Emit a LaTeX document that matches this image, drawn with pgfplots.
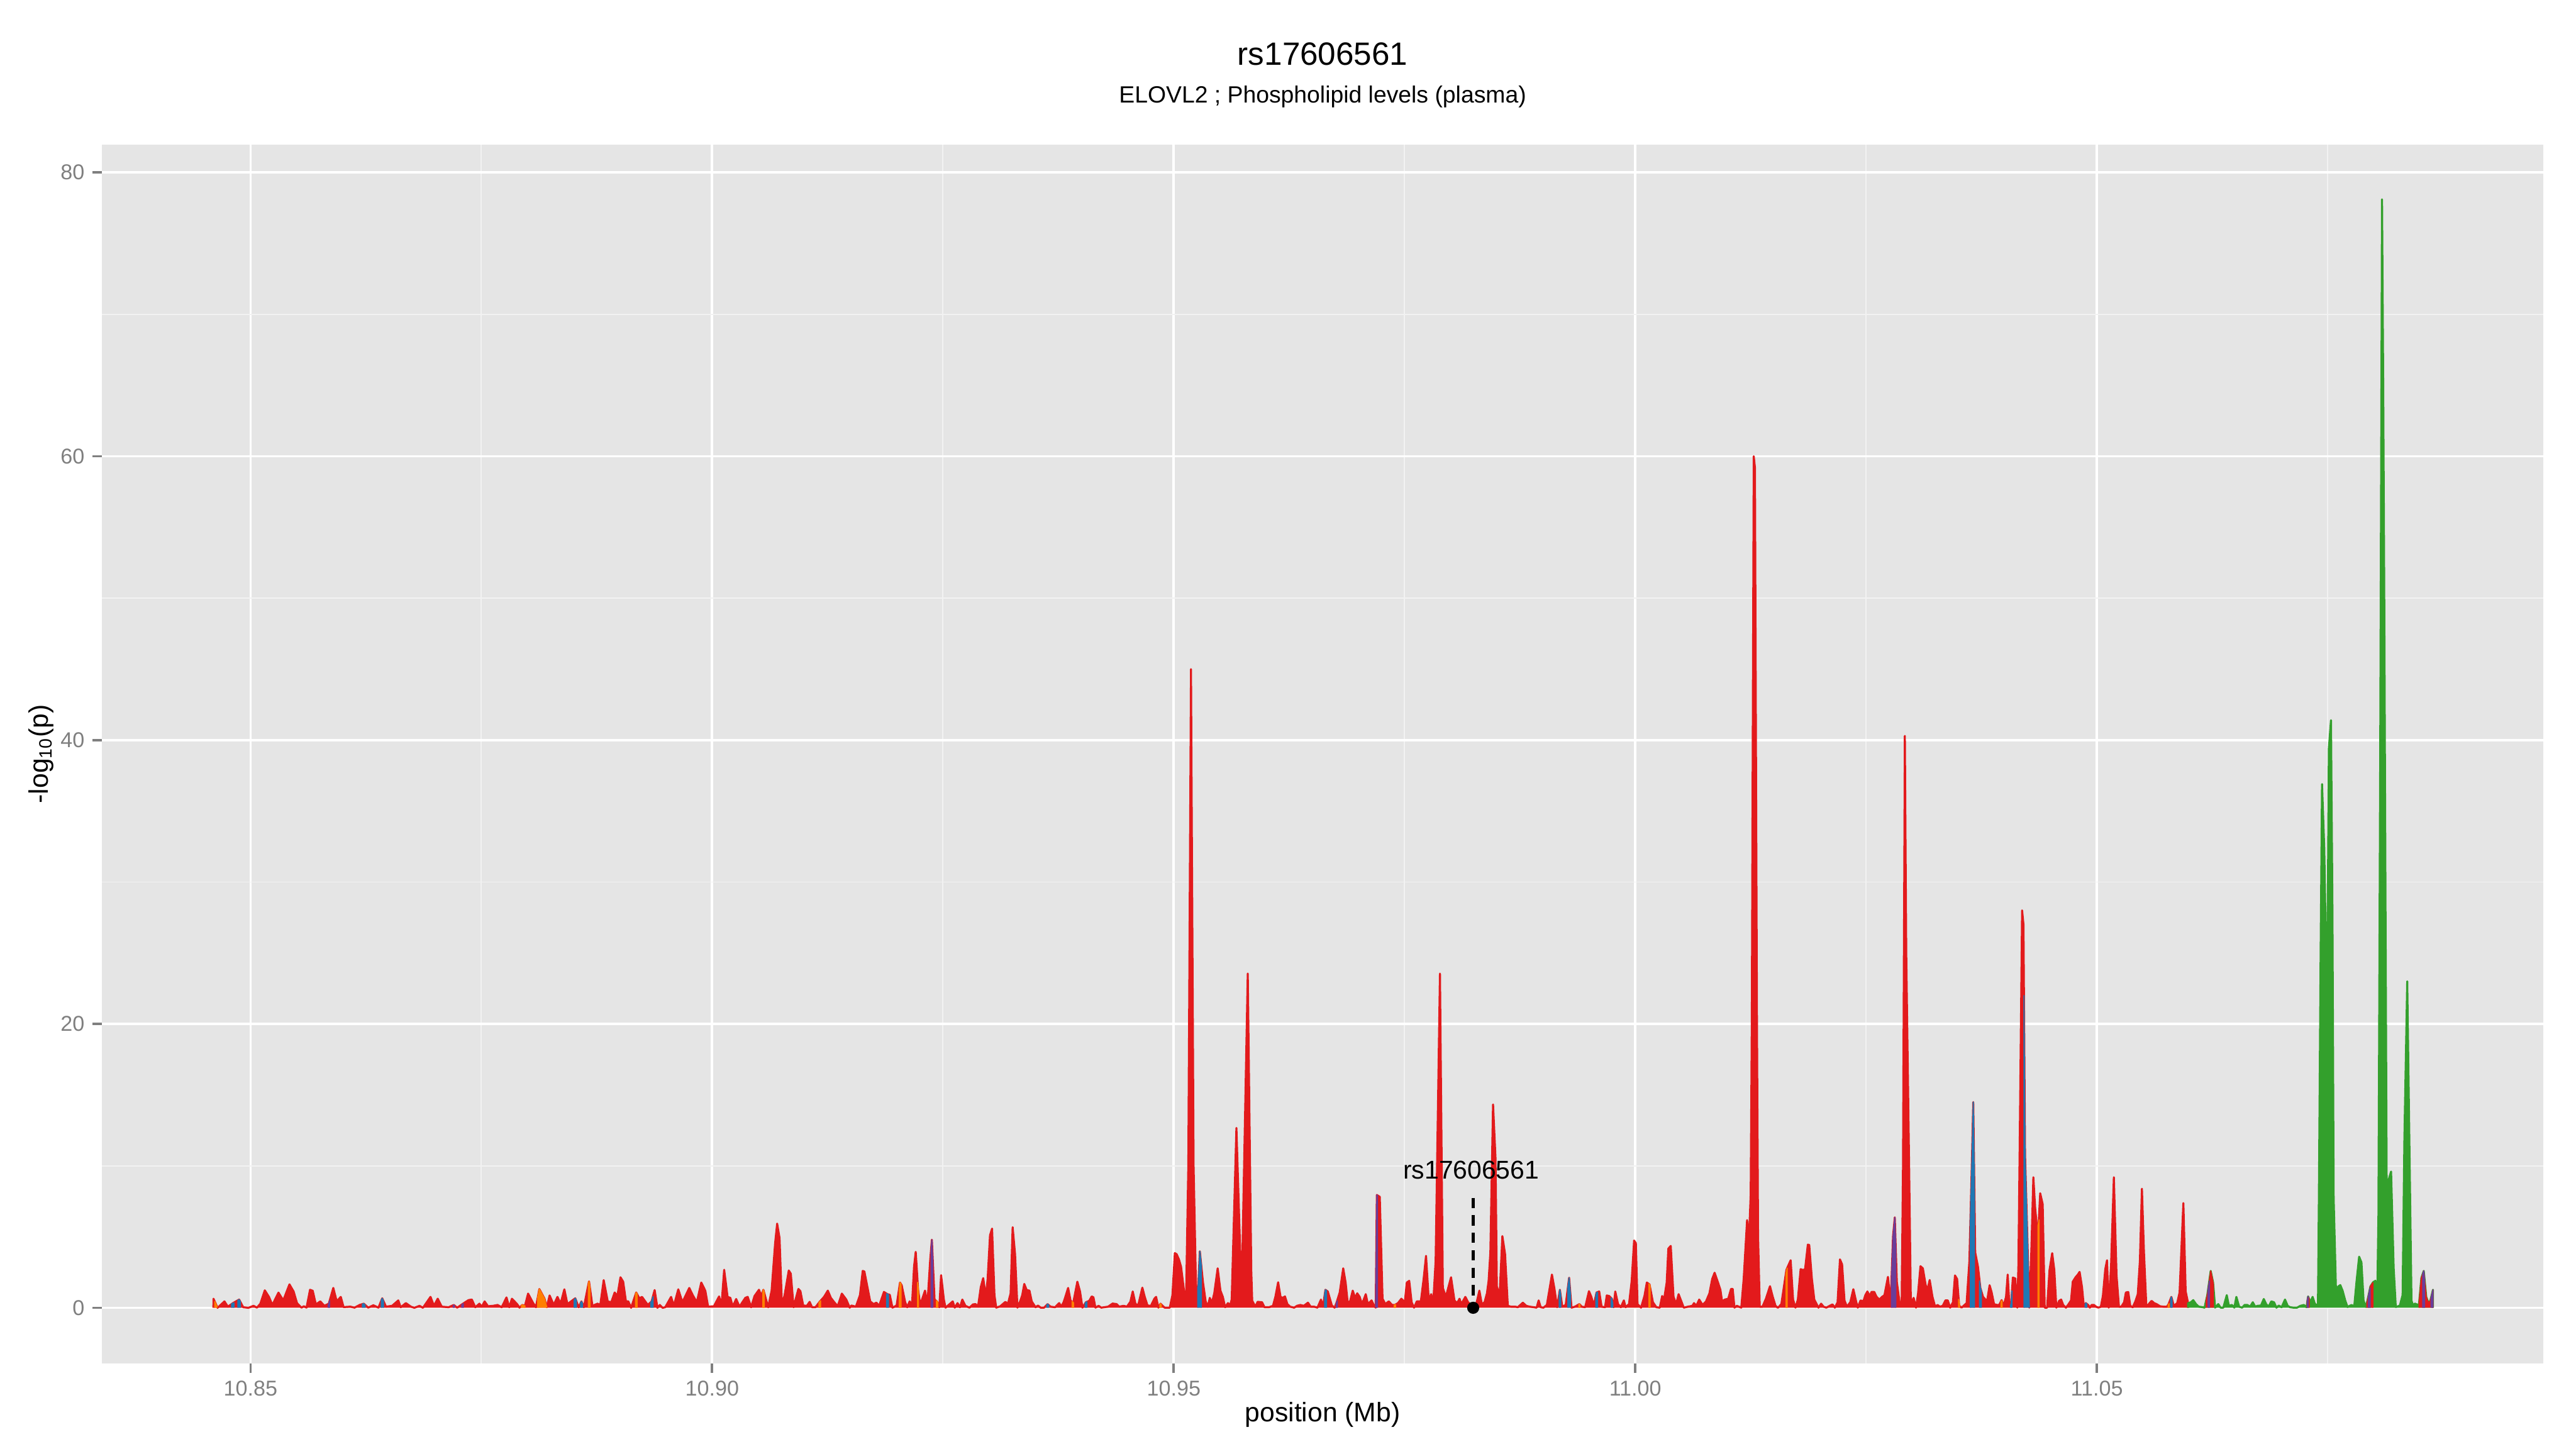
\documentclass[border=0pt]{standalone}
\usepackage{fontspec}
\setmainfont{Liberation Sans}
\usepackage{pgfplots}
\pgfplotsset{compat=1.18}
\definecolor{cRed}{HTML}{E31A1C}
\definecolor{cBlue}{HTML}{1F78B4}
\definecolor{cGreen}{HTML}{33A02C}
\definecolor{cOrange}{HTML}{FF7F00}
\definecolor{cPurple}{HTML}{6A3D9A}
\definecolor{panel}{HTML}{E5E5E5}
\definecolor{minorgrid}{HTML}{F2F2F2}
\definecolor{ticklab}{HTML}{7F7F7F}
\begin{document}
\begin{tikzpicture}
\path[use as bounding box] (-45.6pt,-38.2pt) rectangle (1106.4pt,609.8pt);
\begin{axis}[
  at={(0pt,0pt)}, anchor=south west,
  width=1091.8pt, height=545.2pt, scale only axis,
  xmin=10.8339, xmax=11.09837, ymin=-3.93, ymax=81.97,
  axis background/.style={fill=panel},
  axis line style={draw=none},
  xtick={10.85,10.9,10.95,11,11.05},
  xticklabels={10.85,10.90,10.95,11.00,11.05},
  ytick={0,20,40,60,80},
  yticklabels={0,20,40,60,80},
  minor xtick={10.875,10.925,10.975,11.025,11.075},
  minor ytick={10,30,50,70},
  grid=both,
  major grid style={white, line width=1.1pt},
  minor grid style={minorgrid, line width=0.55pt},
  tick align=outside, xtick pos=left, ytick pos=left,
  major tick length=4.25pt, minor tick length=0pt,
  major tick style={draw=ticklab, line width=1.1pt},
  tick label style={font=\fontsize{9.6}{11}\selectfont, text=ticklab},
  unbounded coords=jump,
  area/.style={line width=0.9pt, line join=round},
  sliver/.style={line width=0.5pt, line join=round},
]
% main red profile
\addplot[area, draw=cRed, fill=cRed] coordinates {
(10.84597,0)
(10.84598,0.64)(10.84642,0.0)(10.84717,0.45)(10.84754,0.08)(10.84809,0.33)(10.84876,0.58)(10.84920,0.04)(10.84976,0.0)(10.85032,0.14)(10.85069,0.01)(10.85106,0.29)(10.85154,1.23)(10.85199,0.77)(10.85236,0.2)(10.85302,1.07)(10.85354,0.52)(10.85421,1.65)(10.85466,1.15)(10.85503,0.33)(10.85551,0.01)(10.85577,0.11)(10.85606,0.01)(10.85644,1.27)(10.85673,1.2)(10.85707,0.24)(10.85755,0.45)(10.85799,0.14)(10.85847,0.29)(10.85896,1.4)(10.85933,0.45)(10.85977,0.77)(10.86007,0.05)(10.86081,0.08)(10.86126,0.01)(10.86181,0.2)(10.86226,0.29)(10.86274,0.01)(10.86330,0.18)(10.86385,0.01)(10.86426,0.67)(10.86467,0.08)(10.86533,0.14)(10.86600,0.52)(10.86626,0.04)(10.86682,0.33)(10.86737,0.08)(10.86774,0.0)(10.86830,0.14)(10.86867,0.0)(10.86949,0.77)(10.86986,0.14)(10.87027,0.64)(10.87071,0.08)(10.87145,0.04)(10.87201,0.2)(10.87238,0.01)(10.87294,0.26)(10.87360,0.54)(10.87397,0.58)(10.87434,0.04)(10.87479,0.29)(10.87505,0.08)(10.87535,0.45)(10.87572,0.11)(10.87627,0.14)(10.87676,0.2)(10.87720,0.04)(10.87772,0.73)(10.87802,0.04)(10.87831,0.64)(10.87887,0.26)(10.87913,0.01)(10.87942,0.2)(10.87972,0.14)(10.88006,1.0)(10.88061,0.33)(10.88091,0.04)(10.88128,1.32)(10.88184,0.64)(10.88209,0.04)(10.88239,0.87)(10.88284,0.2)(10.88324,0.77)(10.88358,0.29)(10.88399,1.3)(10.88432,0.26)(10.88517,0.67)(10.88554,0.04)(10.88584,0.45)(10.88610,0.04)(10.88666,1.86)(10.88703,0.14)(10.88758,0.29)(10.88788,0.2)(10.88825,1.95)(10.88869,0.45)(10.88907,0.39)(10.88944,1.08)(10.88973,0.83)(10.89007,2.15)(10.89036,1.84)(10.89066,0.45)(10.89092,0.45)(10.89122,0.0)(10.89177,1.08)(10.89211,0.67)(10.89240,0.77)(10.89303,0.2)(10.89344,0.45)(10.89377,1.25)(10.89407,0.0)(10.89433,0.2)(10.89463,0.0)(10.89492,0.04)(10.89555,0.77)(10.89585,0.14)(10.89633,1.3)(10.89678,0.39)(10.89752,1.4)(10.89789,0.9)(10.89834,0.39)(10.89882,1.78)(10.89926,1.2)(10.89956,0.08)(10.90019,0.11)(10.90075,0.8)(10.90101,0.14)(10.90130,2.68)(10.90167,0.77)(10.90197,0.7)(10.90223,0.08)(10.90260,0.62)
(10.90296,0.08)(10.90359,0.7)(10.90385,0.77)(10.90422,0.04)(10.90459,0.83)(10.90507,1.27)(10.90533,0.83)(10.90555,1.27)(10.90607,0.04)(10.90644,1.21)(10.90682,4.55)(10.90704,5.93)(10.90730,4.92)(10.90756,0.16)(10.90785,0.9)(10.90830,2.63)(10.90852,2.4)(10.90882,0.04)(10.90934,1.33)(10.90956,1.17)(10.90986,0.16)(10.91026,0.14)(10.91056,0.42)(10.91082,0.04)(10.91119,0.04)(10.91164,0.42)(10.91212,0.77)(10.91253,1.21)(10.91286,0.7)(10.91323,0.39)(10.91360,0.11)(10.91405,1.0)(10.91453,0.58)(10.91490,0.01)(10.91508,0.16)(10.91557,0.08)(10.91601,0.89)(10.91631,2.6)(10.91649,2.56)(10.91712,0.45)(10.91749,0.26)(10.91779,0.36)(10.91809,0.14)(10.91861,1.12)(10.91898,0.96)(10.91924,0.92)(10.91953,0.01)(10.91998,0.16)(10.92035,1.78)(10.92053,1.59)(10.92091,0.39)(10.92113,0.04)(10.92139,0.45)(10.92165,0.2)(10.92187,2.9)(10.92205,3.94)(10.92231,1.27)(10.92254,0.2)(10.92306,1.21)(10.92332,0.26)(10.92361,3.29)(10.92380,4.8)(10.92409,0.58)(10.92435,0.45)(10.92461,0.04)(10.92480,2.3)(10.92510,0.58)(10.92528,0.01)(10.92606,0.45)(10.92628,0.01)(10.92658,0.33)(10.92684,0.04)(10.92710,0.58)(10.92743,0.14)(10.92788,0.01)(10.92825,0.24)(10.92854,0.26)(10.92880,0.08)(10.92910,1.46)(10.92936,2.09)(10.92966,0.77)(10.92984,2.03)(10.93010,5.11)(10.93032,5.58)(10.93058,0.89)(10.93077,0.01)(10.93121,0.11)(10.93177,0.42)(10.93203,0.26)(10.93233,1.02)(10.93255,5.68)(10.93281,3.79)(10.93307,0.01)(10.93336,0.45)(10.93359,0.89)(10.93381,1.68)(10.93407,1.25)(10.93437,1.21)(10.93462,0.45)(10.93503,0.04)(10.93529,0.16)(10.93559,0.01)(10.93596,0.01)(10.93633,0.26)(10.93666,0.08)(10.93715,0.04)(10.93759,0.33)(10.93781,0.08)(10.93807,0.39)(10.93826,0.77)(10.93856,1.4)(10.93882,0.52)(10.93911,0.33)(10.93956,1.84)(10.93985,1.15)(10.94011,0.01)(10.94048,0.39)(10.94085,0.49)(10.94111,0.8)(10.94130,0.74)(10.94152,0.01)(10.94186,0.14)(10.94215,0.01)(10.94289,0.08)(10.94338,0.3)(10.94382,0.26)(10.94408,0.08)(10.94456,0.14)(10.94493,0.08)(10.94530,0.42)(10.94556,1.15)(10.94586,0.26)(10.94616,0.2)(10.94660,1.42)(10.94686,0.77)(10.94716,0.16)(10.94753,0.14)(10.94790,0.64)(10.94809,0.77)(10.94834,0.01)(10.94857,0.29)(10.94901,0.01)(10.94957,0.01)(10.94986,0.89)(10.95012,3.85)(10.95031,3.78)(10.95057,3.4)(10.95079,2.9)(10.95113,1.12)(10.95135,1.15)(10.95158,10)(10.95187,45.0)(10.95215,10)(10.95242,1.15)(10.95265,1.52)(10.95283,3.98)(10.95317,1.78)(10.95346,0.45)(10.95368,0.08)(10.95391,0.7)(10.95413,0.33)(10.95439,1.02)(10.95476,2.78)(10.95506,1.21)(10.95532,0.77)(10.95557,0.04)(10.95587,0.33)(10.95613,0.2)(10.95628,0.6)(10.95679,12.67)(10.95735,0.76)(10.95802,23.55)(10.95840,2.6)(10.95850,0.5)(10.95884,0.08)
(10.95909,0.42)(10.95957,0.39)(10.95983,0.04)(10.96031,0.04)(10.96075,0.14)(10.96101,0.77)(10.96131,1.8)(10.96157,0.77)(10.96179,0.7)(10.96205,0.8)(10.96231,0.26)(10.96261,0.08)(10.96305,0.01)(10.96335,0.14)(10.96372,0.2)(10.96409,0.14)(10.96454,0.36)(10.96483,0.08)(10.96520,0.08)(10.96557,0.01)(10.96595,0.58)(10.96617,0.08)(10.96643,1.27)(10.96669,1.15)(10.96713,0.16)(10.96743,0.01)(10.96765,0.39)(10.96798,1.08)(10.96836,2.78)(10.96862,1.78)(10.96884,0.39)(10.96910,0.45)(10.96939,1.21)(10.96965,0.7)(10.96988,1.02)(10.97014,0.77)(10.97040,0.26)(10.97080,0.96)(10.97103,0.26)(10.97143,0.52)(10.97169,0.16)(10.97188,0.01)(10.97200,7.95)(10.97232,7.82)(10.97262,0.64)(10.97292,0.26)(10.97329,0.45)(10.97366,0.2)(10.97395,0.2)(10.97429,0.33)(10.97466,0.64)(10.97503,0.39)(10.97525,1.78)(10.97551,1.9)(10.97577,0.39)(10.97603,0.01)(10.97633,0.45)(10.97677,0.45)(10.97707,2.03)(10.97733,3.66)(10.97763,0.52)(10.97789,0.96)(10.97811,0.33)(10.97837,3.3)(10.97884,23.55)(10.97915,1.4)(10.97948,0.77)(10.98004,2.15)(10.98041,0.52)(10.98070,0.33)(10.98096,0.64)(10.98115,0.26)(10.98159,0.77)(10.98189,0.39)(10.98219,0.2)(10.98245,0.01)(10.98282,0.39)(10.98311,1.21)(10.98337,0.26)(10.98367,0.39)(10.98393,1.02)(10.98411,1.9)(10.98430,3.9)(10.98459,14.33)(10.98486,10.5)(10.98500,1.5)(10.98530,0.89)(10.98560,5.05)(10.98589,3.8)(10.98619,0.14)(10.98653,0.08)(10.98701,0.08)(10.98727,0.04)(10.98782,0.36)(10.98819,0.14)(10.98856,0.08)(10.98901,0.04)(10.98931,0.01)(10.98953,0.52)(10.98975,0.04)(10.99005,0.01)(10.99042,0.2)(10.99097,2.34)(10.99123,1.39)(10.99153,0.04)(10.99183,1.27)(10.99209,0.08)(10.99246,0.2)(10.99283,2.12)(10.99309,0.01)(10.99346,0.08)(10.99394,0.26)(10.99420,0.08)(10.99457,0.04)(10.99498,1.17)(10.99524,0.77)(10.99550,0.16)(10.99580,1.08)(10.99609,1.15)(10.99635,0.08)(10.99672,0.04)(10.99691,0.87)(10.99717,0.83)(10.99746,0.64)(10.99765,0.04)(10.99783,1.15)(10.99813,0.26)(10.99843,0.04)(10.99876,0.52)(10.99895,0.04)(10.99932,0.26)(10.99961,1.9)(10.99987,4.74)(11.00006,4.55)(11.00024,0.26)(11.00062,0.01)(11.00099,0.83)(11.00125,1.78)(11.00154,1.65)(11.00191,0.39)(11.00228,0.04)(11.00265,0.01)(11.00291,0.83)(11.00310,0.52)(11.00340,1.78)(11.00358,4.17)(11.00384,4.36)(11.00414,0.77)(11.00443,0.26)(11.00469,0.96)(11.00495,0.52)(11.00525,0.01)(11.00570,0.08)(11.00618,0.14)(11.00636,0.33)(11.00662,0.14)(11.00692,0.58)(11.00729,0.2)(11.00766,0.45)(11.00803,1.02)(11.00833,2.03)(11.00859,2.47)(11.00896,1.78)(11.00922,1.27)(11.00940,0.45)(11.00970,0.58)(11.01007,0.64)(11.01037,1.33)(11.01055,1.33)(11.01074,0.01)(11.01100,0.14)(11.01148,0.01)(11.01174,2.03)(11.01211,6.18)(11.01230,4.55)(11.01250,8)(11.01262,20)(11.01283,60)(11.01296,59.2)(11.01318,20)(11.01330,5)(11.01348,0.08)(11.01378,0.08)(11.01415,0.64)(11.01459,1.52)(11.01489,0.77)(11.01519,0.14)(11.01545,0.0)(11.01582,0.26)(11.01637,2.68)
(11.01683,3.35)(11.01709,0.58)(11.01735,0.01)(11.01761,0.58)(11.01791,2.72)(11.01817,2.66)(11.01839,2.72)(11.01869,4.45)(11.01884,4.43)(11.01913,2.03)(11.01939,0.58)(11.01984,0.01)(11.02013,0.29)(11.02039,0.08)(11.02069,0.01)(11.02106,0.14)(11.02136,0.24)(11.02162,0.01)(11.02191,0.39)(11.02217,3.41)(11.02240,3.06)(11.02266,0.52)(11.02292,0.08)(11.02329,0.39)(11.02362,1.31)(11.02392,0.45)(11.02410,0.01)(11.02440,0.52)(11.02470,0.45)(11.02492,0.89)(11.02514,1.15)(11.02540,0.83)(11.02559,1.12)(11.02588,1.12)(11.02614,0.77)(11.02644,0.58)(11.02673,0.77)(11.02699,0.89)(11.02737,2.18)(11.02766,0.26)(11.02792,5.05)(11.02811,6.37)(11.02833,1.83)(11.02866,0.2)(11.02885,0.14)(11.02900,10)(11.02920,40.3)(11.02935,25)(11.02966,10)(11.02985,0.3)(11.03015,0.7)(11.03041,0.01)(11.03063,1.02)(11.03089,2.93)(11.03115,2.78)(11.03144,1.65)(11.03163,1.21)(11.03189,1.96)(11.03219,0.77)(11.03248,0.08)(11.03274,0.2)(11.03300,0.08)(11.03330,0.14)(11.03359,0.52)(11.03385,0.52)(11.03411,0.01)(11.03441,0.39)(11.03463,2.28)(11.03486,2.03)(11.03508,0.16)(11.03534,0.01)(11.03589,0.33)(11.03619,3.3)(11.03645,10)(11.03661,14.5)(11.03670,10)(11.03682,3.9)(11.03712,2.9)(11.03738,1.4)(11.03767,0.77)(11.03793,0.58)(11.03812,0.52)(11.03838,1.59)(11.03860,1.09)(11.03886,0.26)(11.03916,0.2)(11.03942,0.2)(11.03968,0.54)(11.03990,0.14)(11.04016,0.77)(11.04034,2.34)(11.04053,0.08)(11.04071,0.26)(11.04090,2.13)(11.04116,2.07)(11.04138,0.01)(11.04150,3)(11.04163,10.8)(11.04190,28)(11.04205,27)(11.04222,10.8)(11.04268,0.01)(11.04290,4)(11.04312,9.2)(11.04331,7.07)(11.04349,5.8)(11.04368,5.8)(11.04386,8.07)(11.04413,7.3)(11.04435,0.01)(11.04461,0.01)(11.04487,2.66)(11.04516,3.85)(11.04539,2.66)(11.04561,0.01)(11.04591,0.49)(11.04613,0.58)(11.04635,0.2)(11.04665,0.01)(11.04694,0.26)(11.04720,0.52)(11.04739,1.84)(11.04769,2.15)(11.04794,2.34)(11.04813,2.53)(11.04839,1.46)(11.04858,0.14)(11.04880,0.33)(11.04906,0.2)(11.04924,0.01)(11.04943,0.2)(11.04969,0.2)(11.04991,0.08)(11.05017,0.01)(11.05043,0.08)(11.05065,0.83)(11.05091,2.72)(11.05110,3.35)(11.05128,0.01)(11.05154,3.04)(11.05184,9.2)(11.05213,2.28)(11.05239,0.08)(11.05265,0.08)(11.05295,0.39)(11.05314,1.08)(11.05340,1.11)(11.05362,0.14)(11.05388,0.04)(11.05417,0.45)(11.05443,0.96)(11.05466,3.3)(11.05488,8.39)(11.05510,3.93)(11.05536,0.08)(11.05562,0.26)(11.05592,0.49)(11.05621,0.33)(11.05647,0.26)(11.05684,0.11)(11.05721,0.08)(11.05759,0.08)(11.05777,0.26)(11.05807,0.77)(11.05833,0.14)(11.05870,0.33)(11.05896,1.08)(11.05918,4.48)(11.05937,7.38)(11.05962,1.15)(11.05988,0.33)(11.05989,0)
};
% green profile
\addplot[area, draw=cGreen, fill=cGreen] coordinates {
(11.05988,0)(11.05988,0.33)(11.06018,0.39)(11.06044,0.54)(11.06074,0.26)(11.06103,0.08)(11.06140,0.05)(11.06166,0.01)(11.06196,0.89)(11.06233,2.6)(11.06259,1.78)(11.06281,0.01)(11.06315,0.26)(11.06341,0.01)(11.06370,0.01)(11.06407,0.89)(11.06430,0.14)(11.06463,0.2)(11.06489,0.01)(11.06511,0.77)(11.06541,0.08)(11.06574,0.01)(11.06600,0.2)(11.06630,0.2)(11.06660,0.08)(11.06689,0.39)(11.06715,0.08)(11.06741,0.14)(11.06778,0.16)(11.06808,0.62)(11.06834,0.26)(11.06860,0.08)(11.06889,0.45)(11.06919,0.39)(11.06945,0.01)(11.06971,0.16)(11.07001,0.04)(11.07038,0.58)(11.07067,0.14)(11.07093,0.04)(11.07131,0.01)(11.07168,0.01)(11.07205,0.14)(11.07242,0.2)(11.07271,0.04)(11.07288,0.8)(11.07313,0.4)(11.07337,0.77)(11.07360,0.3)(11.07385,0.15)(11.07395,0.3)(11.07405,7.7)(11.07424,25.1)(11.07439,36.9)(11.07463,32.4)(11.07490,21.9)(11.07501,27.8)(11.07513,39.4)(11.07536,41.4)(11.07552,27.8)(11.07565,7.7)(11.07591,1.0)(11.07614,1.5)(11.07637,1.6)(11.07662,1.2)(11.07691,0.5)(11.07715,0.06)(11.07759,0.2)(11.07788,0.1)(11.07812,1.8)(11.07841,3.6)(11.07866,3.2)(11.07889,0.5)(11.07914,0.06)(11.07934,0.6)(11.07963,1.5)(11.07992,1.8)(11.08017,1.9)(11.08036,0.1)(11.08050,6.5)(11.08069,38.3)(11.08089,78.1)(11.08102,64.9)(11.08114,49)(11.08127,27.8)(11.08141,6)(11.08160,9)(11.08187,9.6)(11.08215,2.8)(11.08238,0.06)(11.08282,0.15)(11.08312,0.9)(11.08331,11.8)(11.08362,23)(11.08385,11.8)(11.08408,0.5)(11.08428,0.1)(11.08443,0.3)(11.08482,0.2)(11.08490,0.3)(11.08515,2.1)(11.08541,2.6)(11.08568,0.77)(11.08593,0.33)(11.08612,0.5)(11.08641,1.27)(11.08641,0)
};
% red segments inside green region
\addplot[sliver, draw=cRed, fill=cRed] coordinates {
(11.06185,0)(11.06185,0.55)(11.06196,0.89)(11.06233,2.6)(11.06259,1.78)(11.06262,1.6)(11.06262,0) (11,nan)
(11.07278,0)(11.07278,0.5)(11.07288,0.8)(11.07300,0.6)(11.07300,0) (11,nan)
(11.07925,0)(11.07925,0.3)(11.07934,0.6)(11.07963,1.5)(11.07990,1.78)(11.07990,0) (11,nan)
(11.08490,0)(11.08490,0.3)(11.08515,2.1)(11.08541,2.6)(11.08568,0.77)(11.08593,0.33)(11.08612,0.5)(11.08641,1.27)(11.08641,0)
};
% blue segments
\addplot[sliver, draw=cBlue, fill=cBlue] coordinates {
(10.84795,0)(10.84795,0.28)(10.84820,0.36)(10.84820,0) (11,nan)
(10.84862,0)(10.84862,0.53)(10.84876,0.58)(10.84890,0.43)(10.84890,0) (11,nan)
(10.86212,0)(10.86212,0.27)(10.86226,0.29)(10.86240,0.2)(10.86240,0) (11,nan)
(10.86415,0)(10.86415,0.52)(10.86426,0.67)(10.86440,0.46)(10.86440,0) (11,nan)
(10.88505,0)(10.88505,0.55)(10.88517,0.67)(10.88530,0.5)(10.88530,0) (11,nan)
(10.88575,0)(10.88575,0.35)(10.88584,0.45)(10.88595,0.3)(10.88595,0) (11,nan)
(10.89335,0)(10.89335,0.4)(10.89344,0.45)(10.89360,0.8)(10.89360,0) (11,nan)
(10.91890,0)(10.91890,1.0)(10.91898,0.96)(10.91910,0.94)(10.91910,0) (11,nan)
(10.93625,0)(10.93625,0.2)(10.93633,0.26)(10.93645,0.2)(10.93645,0) (11,nan)
(10.94040,0)(10.94040,0.3)(10.94048,0.39)(10.94060,0.42)(10.94060,0) (11,nan)
(10.95260,0)(10.95260,1.45)(10.95265,1.52)(10.95283,3.98)(10.95300,2.9)(10.95300,0) (11,nan)
(10.96635,0)(10.96635,0.95)(10.96643,1.27)(10.96655,1.22)(10.96655,0) (11,nan)
(10.99175,0)(10.99175,0.9)(10.99183,1.27)(10.99192,0.9)(10.99192,0) (11,nan)
(10.99270,0)(10.99270,1.45)(10.99283,2.12)(10.99298,0.9)(10.99298,0) (11,nan)
(10.99572,0)(10.99572,0.8)(10.99580,1.08)(10.99592,1.1)(10.99592,0) (11,nan)
(10.99738,0)(10.99738,0.7)(10.99746,0.64)(10.99756,0.3)(10.99756,0) (11,nan)
(11.03630,0)(11.03630,6.2)(11.03645,10)(11.03661,14.5)(11.03670,10)(11.03674,7.5)(11.03674,0) (11,nan)
(11.03728,0)(11.03728,1.9)(11.03738,1.4)(11.03748,1.2)(11.03748,0) (11,nan)
(11.04064,0)(11.04064,0.2)(11.04071,0.26)(11.04080,1.2)(11.04080,0) (11,nan)
(11.04210,0)(11.04210,22)(11.04222,10.8)(11.04268,0.01)(11.04268,0) (11,nan)
(11.04873,0)(11.04873,0.27)(11.04880,0.33)(11.04890,0.28)(11.04890,0) (11,nan)
(11.05800,0)(11.05800,0.65)(11.05807,0.77)(11.05815,0.5)(11.05815,0)
};
% orange segments
\addplot[sliver, draw=cOrange, fill=cOrange] coordinates {
(10.84612,0)(10.84612,0.44)(10.84635,0.1)(10.84635,0) (11,nan)
(10.87935,0)(10.87935,0.18)(10.87942,0.2)(10.87972,0.14)(10.87972,0) (11,nan)
(10.88110,0)(10.88110,0.73)(10.88128,1.32)(10.88184,0.64)(10.88209,0.04)(10.88209,0) (11,nan)
(10.88658,0)(10.88658,1.6)(10.88666,1.86)(10.88675,1.45)(10.88675,0) (11,nan)
(10.89170,0)(10.89170,0.95)(10.89177,1.08)(10.89187,0.97)(10.89187,0) (11,nan)
(10.90549,0)(10.90549,1.12)(10.90555,1.27)(10.90565,1.04)(10.90565,0) (11,nan)
(10.91158,0)(10.91158,0.37)(10.91164,0.42)(10.91174,0.5)(10.91174,0) (11,nan)
(10.92028,0)(10.92028,1.25)(10.92035,1.78)(10.92046,1.66)(10.92046,0) (11,nan)
(10.92226,0)(10.92226,1.8)(10.92236,1.1)(10.92236,0) (11,nan)
(10.92430,0)(10.92430,0.5)(10.92445,0.4)(10.92445,0) (11,nan)
(10.93900,0)(10.93900,0.45)(10.93915,0.35)(10.93915,0) (11,nan)
(10.94850,0)(10.94850,0.2)(10.94857,0.29)(10.94865,0.2)(10.94865,0) (11,nan)
(10.97390,0)(10.97390,0.2)(10.97402,0.23)(10.97402,0) (11,nan)
(10.99388,0)(10.99388,0.24)(10.99400,0.22)(10.99400,0) (11,nan)
(11.00148,0)(11.00148,1.7)(11.00160,1.55)(11.00160,0) (11,nan)
(11.01633,0)(11.01633,2.4)(11.01645,2.8)(11.01645,0) (11,nan)
(11.03502,0)(11.03502,0.6)(11.03512,0.16)(11.03512,0) (11,nan)
(11.03962,0)(11.03962,0.45)(11.03974,0.5)(11.03974,0) (11,nan)
(11.04362,0)(11.04362,5.8)(11.04374,6.2)(11.04374,0) (11,nan)
(11.05772,0)(11.05772,0.2)(11.05782,0.3)(11.05782,0)
};
% purple segments
\addplot[sliver, draw=cPurple, fill=cPurple] coordinates {
(10.85840,0)(10.85840,0.2)(10.85847,0.29)(10.85856,0.5)(10.85856,0) (11,nan)
(10.87195,0)(10.87195,0.17)(10.87201,0.2)(10.87208,0.15)(10.87208,0) (11,nan)
(10.87288,0)(10.87288,0.22)(10.87294,0.26)(10.87305,0.3)(10.87305,0) (11,nan)
(10.92372,0)(10.92372,4.0)(10.92380,4.8)(10.92390,3.3)(10.92390,0) (11,nan)
(10.96760,0)(10.96760,0.3)(10.96765,0.39)(10.96773,0.5)(10.96773,0) (11,nan)
(10.97188,0)(10.97188,0.01)(10.97200,7.95)(10.97207,7.92)(10.97207,0) (11,nan)
(11.02775,0)(11.02775,1.9)(11.02792,5.05)(11.02811,6.37)(11.02822,4.1)(11.02822,0) (11,nan)
(11.06205,0)(11.06205,1.3)(11.06220,1.9)(11.06220,0) (11,nan)
(11.07280,0)(11.07280,0.55)(11.07288,0.8)(11.07290,0.78)(11.07290,0) (11,nan)
(11.07940,0)(11.07940,0.8)(11.07960,1.4)(11.07960,0) (11,nan)
(11.08530,0)(11.08530,2.4)(11.08541,2.6)(11.08550,1.9)(11.08550,0) (11,nan)
(11.08620,0)(11.08620,0.7)(11.08641,1.27)(11.08641,0)
};
% lead SNP marker
\addplot[black, line width=1.3pt, dash pattern=on 4.6pt off 3.2pt] coordinates {(10.98244,7.75) (10.98244,0)};
\addplot[only marks, mark=*, mark size=2.5pt, black] coordinates {(10.98244,0)};
\node[font=\fontsize{11.5}{13}\selectfont, inner sep=0pt] at (axis cs:10.98222,9.72) {rs17606561};
\end{axis}
\node[font=\fontsize{14.4}{17}\selectfont] at (545.9pt,585.6pt) {rs17606561};
\node[font=\fontsize{10.5}{12}\selectfont] at (545.9pt,566.4pt) {ELOVL2 ; Phospholipid levels (plasma)};
\node[font=\fontsize{12}{14}\selectfont] at (545.9pt,-22.8pt) {position (Mb)};
\node[font=\fontsize{12}{14}\selectfont, rotate=90] at (-27.2pt,272.6pt) {-log\textsubscript{10}(p)};
\end{tikzpicture}
\end{document}
